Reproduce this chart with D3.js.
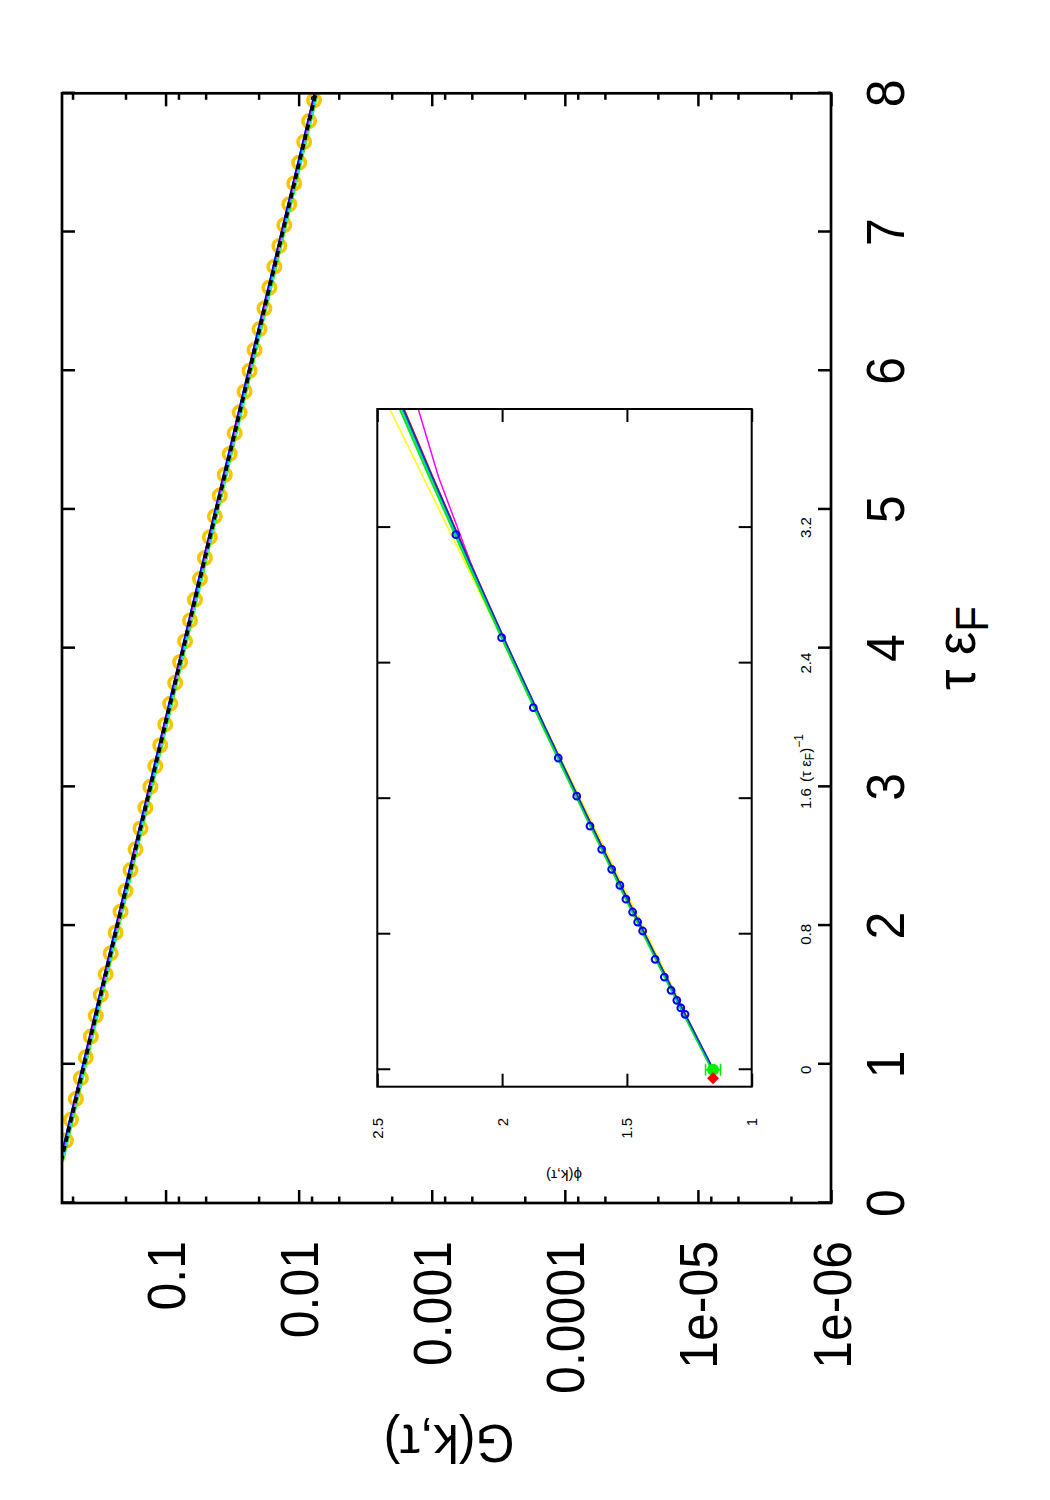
<!DOCTYPE html>
<html><head><meta charset="utf-8">
<script src="https://cdn.jsdelivr.net/npm/d3@7"></script>
<style>body{margin:0;background:#fff}</style>
</head><body>
<svg id="c" width="1050" height="1500" xmlns="http://www.w3.org/2000/svg"></svg>
<script>
// ---------- main panel data ----------
const tau = [0.45,0.60,0.75,0.90,1.05,1.20,1.35,1.50,1.65,1.80,1.95,2.10,2.25,2.40,2.55,2.70,2.85,3.00,3.15,3.30,3.45,3.60,3.75,3.90,4.05,4.20,4.35,4.50,4.65,4.80,4.95,5.10,5.25,5.40,5.55,5.70,5.85,6.00,6.15,6.30,6.45,6.60,6.75,6.90,7.05,7.20,7.35,7.50,7.65,7.80,7.95];
const G = [0.560,0.514,0.4714,0.4327,0.3971,0.3643,0.3344,0.3069,0.2817,0.2585,0.2372,0.2178,0.1998,0.1834,0.1683,0.1545,0.1418,0.1301,0.1194,0.1096,0.1006,0.09231,0.08471,0.07775,0.07135,0.06548,0.06009,0.05515,0.05061,0.04645,0.04262,0.03912,0.03590,0.03294,0.03023,0.02775,0.02546,0.02337,0.02145,0.01969,0.01807,0.01658,0.01522,0.01397,0.01282,0.01176,0.01080,0.00991,0.00909,0.00835,0.00766];
const fitTau = [0.3,1,2,3,4,5,6,7,8];
const fitG = [0.6097,0.4088,0.2306,0.1301,0.07339,0.04142,0.02337,0.01319,0.007441];
const tauTicks = [0,1,2,3,4,5,6,7,8];
const gMajorTicks = [1e-6,1e-5,1e-4,1e-3,1e-2,1e-1];
const gTickLabels = ["1e-06","1e-05","0.0001","0.001","0.01","0.1"];
const gMinorTicks = [2e-6,5e-6,8e-6,2e-5,5e-5,8e-5,2e-4,5e-4,8e-4,2e-3,5e-3,8e-3,2e-2,5e-2,8e-2,0.2,0.5];

// ---------- inset data ----------
const invTau = [3.158,2.550,2.137,1.840,1.615,1.438,1.301,1.183,1.088,1.007,0.931,0.872,0.819,0.652,0.547,0.469,0.410,0.365,0.327];
const phi    = [2.185,2.002,1.875,1.775,1.701,1.648,1.601,1.561,1.528,1.504,1.477,1.457,1.437,1.387,1.350,1.323,1.300,1.284,1.267];
const insetFitX   = [0,0.5,1.0,1.5,2.0,2.5,3.0,3.5,3.9];
const phiFitGreen   = [1.159,1.333,1.502,1.667,1.829,1.987,2.141,2.292,2.410];
const phiFitCyan    = [1.155,1.328,1.497,1.662,1.823,1.980,2.134,2.284,2.401];
const phiFitBlue    = [1.153,1.326,1.495,1.660,1.821,1.978,2.131,2.280,2.396];
const phiFitRed     = [1.152,1.325,1.494,1.659,1.820,1.977,2.129,2.277,2.392];
const phiFitYellow  = [1.155,1.321,1.487,1.653,1.819,1.985,2.151,2.317,2.450];
const phiFitMagenta = [1.155,1.330,1.500,1.665,1.826,1.986,2.128,2.255,2.336];
const extrapX = [0], extrapPhi = [1.155], extrapErr = [0.03];
const limitX = [-0.05], limitPhi = [1.155];
const insetXTicks = [0,0.8,1.6,2.4,3.2];
const insetXTickLabels = ["0","0.8","1.6","2.4","3.2"];
const insetYTicks = [1,1.5,2,2.5];
const insetYTickLabels = ["1","1.5","2","2.5"];

const FONT = "'Liberation Sans', Arial, Helvetica, sans-serif";
const svg = d3.select("#c");
svg.append("rect").attr("width",1050).attr("height",1500).attr("fill","#fff");
// landscape drawing space, rotated onto the portrait page
const L = svg.append("g").attr("transform","translate(0,1500) rotate(-90)");

// ---------- main scales ----------
const X0=297, X1=1406.7, Y0=62, Y1=831;
const x = d3.scaleLinear().domain([0,8]).range([X0,X1]);
const y = d3.scaleLog().domain([1e-6,0.6]).range([Y1,Y0]);

const defs = svg.append("defs");
defs.append("clipPath").attr("id","mainclip").append("rect")
  .attr("x",X0).attr("y",Y0).attr("width",X1-X0).attr("height",Y1-Y0);

function styleAxis(g, w){
  g.select(".domain").remove();
  g.selectAll(".tick line").attr("stroke","#000").attr("stroke-width",w);
  g.selectAll(".tick text").remove();
}
L.append("g").attr("transform",`translate(0,${Y1})`)
  .call(d3.axisBottom(x).tickValues(tauTicks).tickSizeInner(-13).tickSizeOuter(0).tickFormat(""))
  .call(g=>styleAxis(g,2.5));
L.append("g").attr("transform",`translate(0,${Y0})`)
  .call(d3.axisTop(x).tickValues(tauTicks).tickSizeInner(-13).tickSizeOuter(0).tickFormat(""))
  .call(g=>styleAxis(g,2.5));
[[X0,d3.axisLeft],[X1,d3.axisRight]].forEach(([pos,ax])=>{
  L.append("g").attr("transform",`translate(${pos},0)`)
    .call(ax(y).tickValues(gMajorTicks).tickSizeInner(-13).tickSizeOuter(0).tickFormat(""))
    .call(g=>styleAxis(g,2.5));
  L.append("g").attr("transform",`translate(${pos},0)`)
    .call(ax(y).tickValues(gMinorTicks).tickSizeInner(-6.5).tickSizeOuter(0).tickFormat(""))
    .call(g=>styleAxis(g,2.5));
});

// data circles
const gd = L.append("g").attr("clip-path","url(#mainclip)");
gd.selectAll("circle.d").data(tau).join("circle")
  .attr("cx",(d)=>x(d)).attr("cy",(d,i)=>y(G[i])).attr("r",6.2)
  .attr("fill","none").attr("stroke","#f7c600").attr("stroke-width",3.6);

// fit lines
const mline = d3.line().x((d)=>x(d[0])).y((d)=>y(d[1]));
const fitPts = fitTau.map((t,i)=>[t,fitG[i]]);
[["#00ee00",3],["#ffff00",3],["#00e0e0",4],["#ff00ff",1.8],["#0000ff",1.5]].forEach(([c,w],k)=>{
  gd.append("path").attr("d",mline(fitPts.map(p=>[p[0],p[1]*(1+0.012*(k-2))])))
    .attr("fill","none").attr("stroke",c).attr("stroke-width",w);
});
gd.append("path").attr("d",mline(fitPts)).attr("fill","none")
  .attr("stroke","#000").attr("stroke-width",3.8).attr("stroke-dasharray","6,4");

// main frame
L.append("rect").attr("x",X0).attr("y",Y0).attr("width",X1-X0).attr("height",Y1-Y0)
  .attr("fill","none").attr("stroke","#000").attr("stroke-width",2.7);

// main tick labels
L.selectAll("text.gt").data(gMajorTicks).join("text")
  .attr("transform",(d)=>`translate(259,${y(d)+19.5}) scale(1,1.08)`)
  .attr("text-anchor","end").attr("font-family",FONT).attr("font-size",50)
  .text((d,i)=>gTickLabels[i]);
L.selectAll("text.tt").data(tauTicks).join("text")
  .attr("transform",(d)=>`translate(${x(d)},904) scale(1,1.08)`)
  .attr("text-anchor","middle").attr("font-family",FONT).attr("font-size",50)
  .text((d)=>String(d));
// axis labels
const xl = L.append("text").attr("transform",`translate(852,975) scale(1,1.08)`)
  .attr("text-anchor","middle").attr("font-family",FONT).attr("font-size",52);
xl.append("tspan").text("τ ε");
xl.append("tspan").attr("font-size",42).attr("dy",12).text("F");
L.append("text").attr("transform",`translate(75,449) rotate(-90) scale(1.0,1.08)`)
  .attr("text-anchor","middle").attr("font-family",FONT).attr("font-size",50)
  .text("G(k,τ)");

// ---------- inset ----------
const IX0=413.3, IX1=1091, IY0=377.3, IY1=751.7;
const ix = d3.scaleLinear().domain([-0.1,3.9]).range([IX0,IX1]);
const iy = d3.scaleLinear().domain([1,2.5]).range([IY1,IY0]);
defs.append("clipPath").attr("id","insetclip").append("rect")
  .attr("x",IX0).attr("y",IY0).attr("width",IX1-IX0).attr("height",IY1-IY0);
L.append("rect").attr("x",IX0).attr("y",IY0).attr("width",IX1-IX0).attr("height",IY1-IY0)
  .attr("fill","#fff");
L.append("g").attr("transform",`translate(0,${IY1})`)
  .call(d3.axisBottom(ix).tickValues(insetXTicks).tickSizeInner(-13).tickSizeOuter(0).tickFormat(""))
  .call(g=>styleAxis(g,2));
L.append("g").attr("transform",`translate(0,${IY0})`)
  .call(d3.axisTop(ix).tickValues(insetXTicks).tickSizeInner(-13).tickSizeOuter(0).tickFormat(""))
  .call(g=>styleAxis(g,2));
L.append("g").attr("transform",`translate(${IX0},0)`)
  .call(d3.axisLeft(iy).tickValues(insetYTicks).tickSizeInner(-13).tickSizeOuter(0).tickFormat(""))
  .call(g=>styleAxis(g,2));
L.append("g").attr("transform",`translate(${IX1},0)`)
  .call(d3.axisRight(iy).tickValues(insetYTicks).tickSizeInner(-13).tickSizeOuter(0).tickFormat(""))
  .call(g=>styleAxis(g,2));

const gi = L.append("g").attr("clip-path","url(#insetclip)");
const iline = d3.line().x((d)=>ix(d[0])).y((d)=>iy(d[1]));
[[phiFitYellow,"#ffff00",1.5],[phiFitMagenta,"#ff00ff",1.5],[phiFitGreen,"#00ee00",2],[phiFitRed,"#ff0000",1.2],
 [phiFitCyan,"#00c8c8",2],[phiFitBlue,"#1030c0",1.5]].forEach(([arr,c,w])=>{
  gi.append("path").attr("d",iline(insetFitX.map((v,i)=>[v,arr[i]])))
    .attr("fill","none").attr("stroke",c).attr("stroke-width",w);
});
gi.selectAll("circle.p").data(invTau).join("circle")
  .attr("cx",(d)=>ix(d)).attr("cy",(d,i)=>iy(phi[i])).attr("r",3.4)
  .attr("fill","none").attr("stroke","#0000ff").attr("stroke-width",2);
// extrapolated point with error bar
extrapX.forEach((v,i)=>{
  const cx=ix(v), lo=iy(extrapPhi[i]-extrapErr[i]), hi=iy(extrapPhi[i]+extrapErr[i]);
  gi.append("line").attr("x1",cx).attr("x2",cx).attr("y1",lo).attr("y2",hi).attr("stroke","#00ee00").attr("stroke-width",1.5);
  [lo,hi].forEach(yy=>gi.append("line").attr("x1",cx-6).attr("x2",cx+6).attr("y1",yy).attr("y2",yy).attr("stroke","#00ee00").attr("stroke-width",1.5));
  gi.append("circle").attr("cx",cx).attr("cy",iy(extrapPhi[i])).attr("r",6).attr("fill","#00ee00");
});
gi.selectAll("path.lim").data(limitX).join("path")
  .attr("d",(d,i)=>{const cx=ix(d), cy=iy(limitPhi[i]); return `M${cx-6},${cy}L${cx},${cy-6}L${cx+6},${cy}L${cx},${cy+6}Z`;})
  .attr("fill","#ff0000");

L.append("rect").attr("x",IX0).attr("y",IY0).attr("width",IX1-IX0).attr("height",IY1-IY0)
  .attr("fill","none").attr("stroke","#000").attr("stroke-width",2);

// inset labels
L.selectAll("text.iyt").data(insetYTicks).join("text")
  .attr("x",382).attr("y",(d)=>iy(d)+5.5)
  .attr("text-anchor","end").attr("font-family",FONT).attr("font-size",15)
  .text((d,i)=>insetYTickLabels[i]);
L.selectAll("text.ixt").data(insetXTicks).join("text")
  .attr("x",(d)=>ix(d)).attr("y",811)
  .attr("text-anchor","middle").attr("font-family",FONT).attr("font-size",15)
  .text((d,i)=>insetXTickLabels[i]);
const ixl = L.append("text").attr("x",742).attr("y",811)
  .attr("text-anchor","middle").attr("font-family",FONT).attr("font-size",15);
ixl.append("tspan").text("(τ ε");
ixl.append("tspan").attr("font-size",12).attr("dy",3).text("F");
ixl.append("tspan").attr("dy",-3).text(")");
ixl.append("tspan").attr("font-size",12).attr("dy",-8).text("−1");
L.append("text").attr("transform",`translate(330,564) rotate(-90)`)
  .attr("text-anchor","middle").attr("font-family",FONT).attr("font-size",15)
  .text("ϕ(k,τ)");
</script>
</body></html>
